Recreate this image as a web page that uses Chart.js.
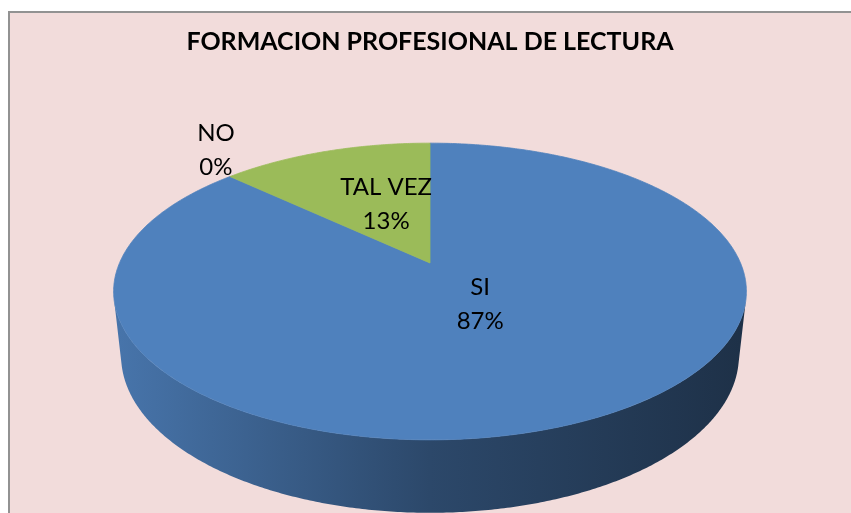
<!DOCTYPE html>
<html><head><meta charset="utf-8">
<script src="https://cdn.jsdelivr.net/npm/chart.js@4"></script>
<style>
html,body{margin:0;padding:0;background:#fff;width:851px;height:513px;overflow:hidden;}
#frame{position:absolute;left:8px;top:11px;width:900px;height:600px;background:#F2DCDB;border-top:2px solid #929292;border-left:2px solid #929292;box-sizing:border-box;}
#c{position:absolute;left:0;top:0;}
</style></head><body>
<div id="frame"></div>
<canvas id="c" width="851" height="513"></canvas>
<script>
const chartTitle = 'FORMACION PROFESIONAL DE LECTURA';
const categories = ['SI', 'NO', 'TAL VEZ'];
const percentages = [87, 0, 13];
const sliceColors = ['#4F81BD', '#C0504D', '#9BBB59'];

// 3D view settings (style only)
const view = { tilt: 27.4 * Math.PI / 180, distance: 4.623, scale: 2.07, depth: 0.235 };

function rgbOf(hex){ const n = parseInt(hex.slice(1), 16); return [n >> 16 & 255, n >> 8 & 255, n & 255]; }
function shade(hex, f){ return 'rgb(' + rgbOf(hex).map(v => Math.round(v * f)).join(',') + ')'; }

function makeProjector(arc){
  const R = arc.outerRadius, sa = Math.sin(view.tilt), ca = Math.cos(view.tilt), L = view.distance;
  const k = view.scale * L * R;
  return (angle, r, z) => {
    const X = r * Math.cos(angle), Y = r * Math.sin(angle);
    const d = L - Y * ca - z * sa;
    return { x: arc.x + k * X / d, y: arc.y + k * (Y * sa - z * ca) / d };
  };
}

function tracePath(ctx, pts){
  pts.forEach((p, j) => j ? ctx.lineTo(p.x, p.y) : ctx.moveTo(p.x, p.y));
}

const pie3d = {
  id: 'pie3d',
  beforeDatasetsDraw(chart){
    const ctx = chart.ctx;
    const arcs = chart.getDatasetMeta(0).data;
    const colors = chart.data.datasets[0].backgroundColor;
    const proj = makeProjector(arcs[0]);
    const vis = Math.asin(Math.min(1, 1 / (view.distance * Math.cos(view.tilt))));
    const lo = vis, hi = Math.PI - vis;
    const left = proj(Math.PI, 1, 0).x, right = proj(0, 1, 0).x;
    ctx.save();
    // side wall
    arcs.forEach((arc, i) => {
      for (const shift of [-2 * Math.PI, 0, 2 * Math.PI]) {
        const a0 = Math.max(arc.startAngle + shift, lo), a1 = Math.min(arc.endAngle + shift, hi);
        if (a1 <= a0) continue;
        const g = ctx.createLinearGradient(left, 0, right, 0);
        g.addColorStop(0, shade(colors[i], 0.9));
        g.addColorStop(0.5, shade(colors[i], 0.56));
        g.addColorStop(1, shade(colors[i], 0.38));
        const n = Math.max(2, Math.ceil((a1 - a0) / (Math.PI / 360)));
        const pts = [];
        for (let j = 0; j <= n; j++) pts.push(proj(a0 + (a1 - a0) * j / n, 1, 0));
        for (let j = n; j >= 0; j--) pts.push(proj(a0 + (a1 - a0) * j / n, 1, -view.depth));
        ctx.beginPath(); tracePath(ctx, pts); ctx.closePath();
        ctx.fillStyle = g; ctx.fill();
      }
    });
    // top face
    arcs.forEach((arc, i) => {
      const span = arc.endAngle - arc.startAngle;
      if (span <= 0) return;
      const n = Math.max(2, Math.ceil(span / (Math.PI / 360)));
      const pts = [proj(0, 0, 0)];
      for (let j = 0; j <= n; j++) pts.push(proj(arc.startAngle + span * j / n, 1, 0));
      ctx.beginPath(); tracePath(ctx, pts); ctx.closePath();
      ctx.fillStyle = colors[i]; ctx.fill();
      ctx.strokeStyle = colors[i]; ctx.lineWidth = 0.8; ctx.lineJoin = 'round'; ctx.stroke();
    });
    ctx.restore();
    return false;
  },
  afterDraw(chart){
    const ctx = chart.ctx;
    const arcs = chart.getDatasetMeta(0).data;
    const proj = makeProjector(arcs[0]);
    const R = arcs[0].outerRadius;
    ctx.save();
    ctx.font = '24px Lato';
    ctx.fillStyle = '#000';
    ctx.textAlign = 'center';
    ctx.textBaseline = 'middle';
    arcs.forEach((arc, i) => {
      const span = arc.endAngle - arc.startAngle;
      const mid = arc.startAngle + span / 2;
      const inside = span > 0.3;
      const p = proj(mid, inside ? 0.38 : 1.08, 0);
      const y = p.y - (inside ? 0.08 : 0.133) * R;
      const lines = [categories[i], percentages[i] + '%'];
      ctx.fillText(lines[0], p.x, y - 17);
      ctx.fillText(lines[1], p.x, y + 17);
    });
    ctx.restore();
  }
};

new Chart(document.getElementById('c'), {
  type: 'pie',
  data: {
    labels: categories,
    datasets: [{ data: percentages, backgroundColor: sliceColors, borderWidth: 0, hoverOffset: 0, offset: 0 }]
  },
  options: {
    responsive: false,
    animation: false,
    devicePixelRatio: 1,
    layout: { padding: { left: 9, right: 0, top: 0, bottom: 100 } },
    plugins: {
      legend: { display: false },
      tooltip: { enabled: false },
      title: {
        display: true,
        text: chartTitle,
        color: '#000',
        font: { family: 'Lato', size: 25, weight: 'bold', lineHeight: 1.2 },
        padding: { top: 27, bottom: 56 }
      }
    }
  },
  plugins: [pie3d]
});
</script>
</body></html>
